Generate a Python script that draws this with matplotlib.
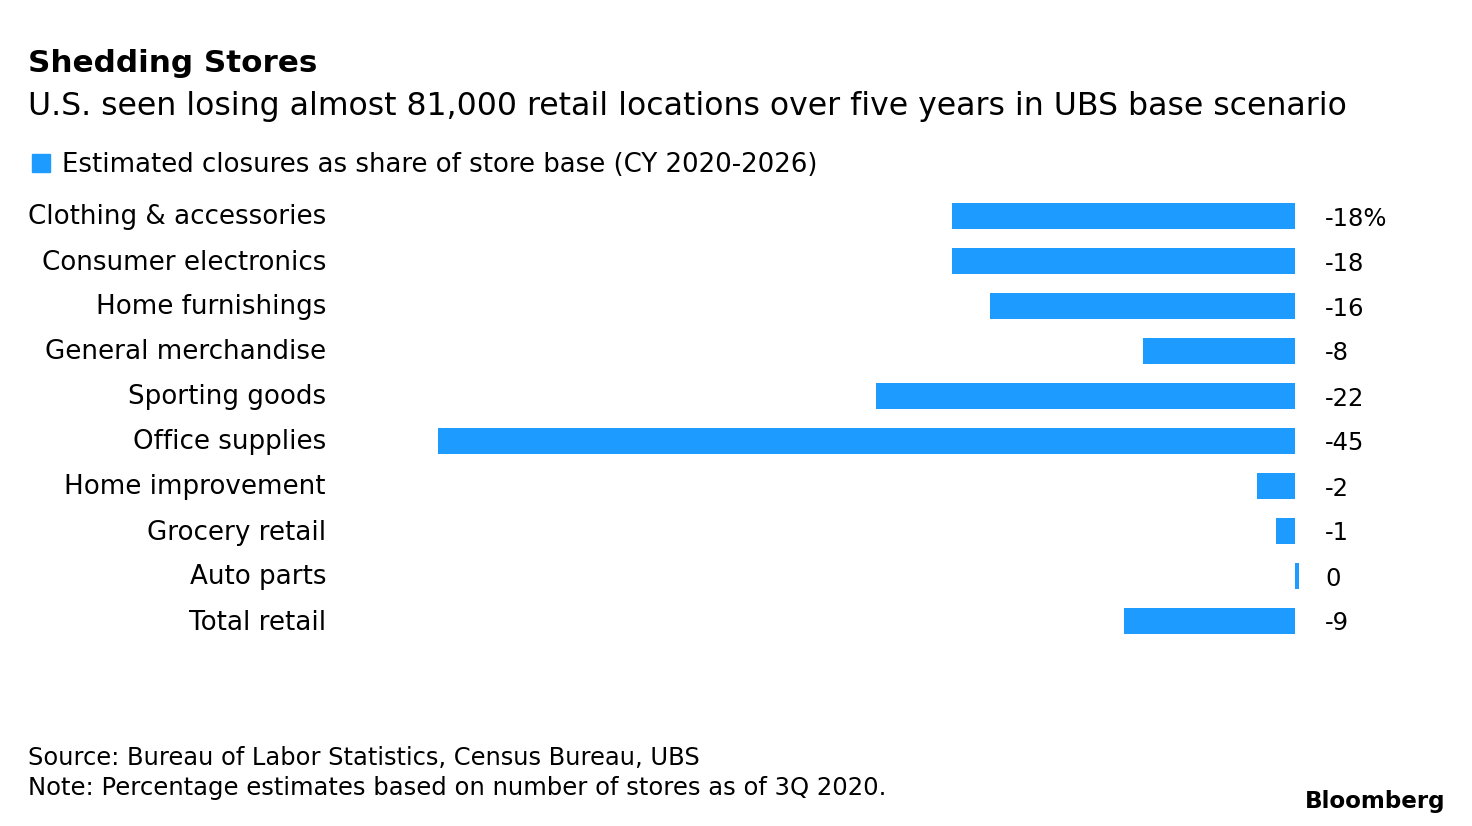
import matplotlib
matplotlib.use("Agg")
import matplotlib.pyplot as plt
from matplotlib.patches import Rectangle

plt.rcParams['font.family'] = ['DejaVu Sans']

categories = ["Clothing & accessories", "Consumer electronics", "Home furnishings",
              "General merchandise", "Sporting goods", "Office supplies",
              "Home improvement", "Grocery retail", "Auto parts", "Total retail"]
values = [-18, -18, -16, -8, -22, -45, -2, -1, 0.2, -9]
value_labels = ["-18%", "-18", "-16", "-8", "-22", "-45", "-2", "-1", "0", "-9"]

title = "Shedding Stores"
subtitle = "U.S. seen losing almost 81,000 retail locations over five years in UBS base scenario"
legend_label = "Estimated closures as share of store base (CY 2020-2026)"
source = "Source: Bureau of Labor Statistics, Census Bureau, UBS"
note = "Note: Percentage estimates based on number of stores as of 3Q 2020."

BLUE = "#1d9bff"
W, H = 1472, 826
fig = plt.figure(figsize=(W / 100, H / 100), dpi=100)

# axes in pixel coordinates
xmin, xmax = -45, 1
px_left, px_zero = 438, 1295
px_per = (px_zero - px_left) / 45
px_right = px_zero + xmax * px_per
top_px, bot_px = 216 - 22.5, 621 + 22.5
ax = fig.add_axes([px_left / W, 1 - bot_px / H, (px_right - px_left) / W, (bot_px - top_px) / H])
ax.set_xlim(xmin, xmax)
ax.set_ylim(len(categories) - 0.5, -0.5)
ypos = list(range(len(categories)))
ax.barh(ypos, values, height=26 / 45, color=BLUE)
ax.axis('off')

for y, cat, lab in zip(ypos, categories, value_labels):
    fig.text(326 / W, 1 - (214.5 + 45 * y) / H, cat, ha='right', va='center_baseline',
             fontsize=18.8, color='#000000')
    fig.text(1325 / W, 1 - (216 + 45 * y) / H, lab, ha='left', va='center_baseline',
             fontsize=17.5, color='#000000')

fig.text(28 / W, 1 - 60 / H, title, fontsize=22.3, fontweight='bold', va='center_baseline')
fig.text(28 / W, 1 - 102.5 / H, subtitle, fontsize=22.7, va='center_baseline')
fig.patches.append(Rectangle((32 / W, 1 - 172 / H), 18 / W, 18 / H, transform=fig.transFigure,
                             color=BLUE))
fig.text(62 / W, 1 - 162 / H, legend_label, fontsize=18.7, va='center_baseline')
fig.text(28 / W, 1 - 755 / H, source, fontsize=17.4, va='center_baseline')
fig.text(28 / W, 1 - 786 / H, note, fontsize=17.5, va='center_baseline')
fig.text(1445 / W, 1 - 799 / H, "Bloomberg", fontsize=16.6, fontweight='bold',
         ha='right', va='center_baseline')

fig.savefig("out.png", dpi=100)
